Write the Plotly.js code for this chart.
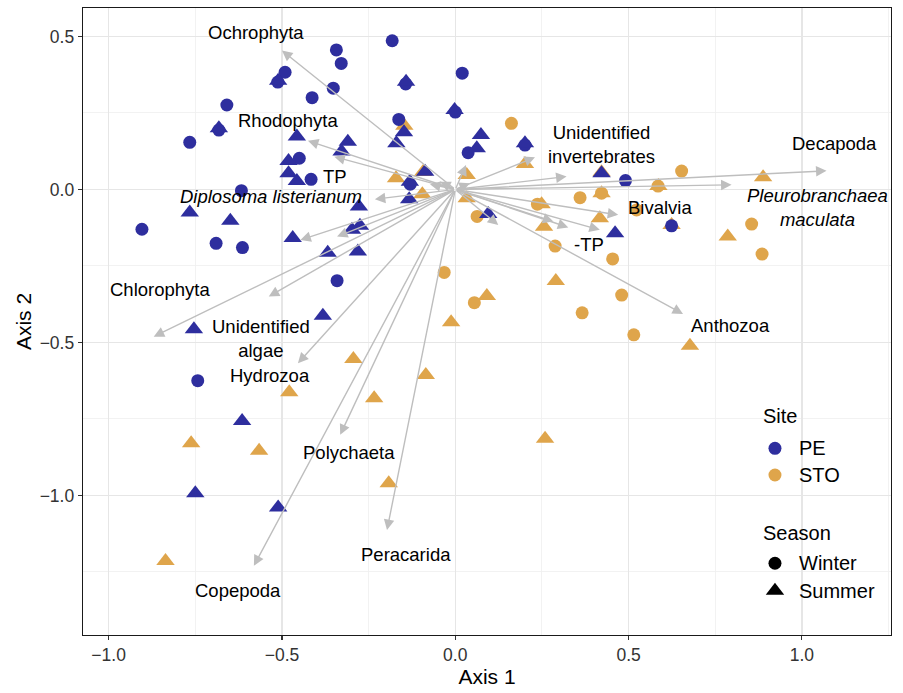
<!DOCTYPE html>
<html><head><meta charset="utf-8">
<script src="https://cdn.plot.ly/plotly-3.0.1.min.js"></script>
<style>html,body{margin:0;padding:0;background:#fff}#chart{width:903px;height:693px}</style>
</head><body><div id="chart"></div>
<script>
// ---- Sample scores (Axis 1, Axis 2) ----
const peWinterX = [-0.182,-0.343,-0.329,-0.491,-0.413,-0.352,-0.659,-0.766,-0.450,-0.416,-0.617,-0.904,-0.690,-0.614,-0.341,-0.743,0.020,-0.163,0.037,-0.130,0.491,0.624,-0.143,0.000,-0.682,-0.512,0.201];
const peWinterY = [0.486,0.456,0.412,0.383,0.300,0.331,0.276,0.154,0.102,0.033,-0.004,-0.130,-0.176,-0.190,-0.298,-0.625,0.380,0.229,0.120,0.017,0.029,-0.119,0.345,0.253,0.194,0.351,0.145];

const peSummerX = [-0.511,-0.682,-0.457,-0.310,-0.328,-0.481,-0.481,-0.457,-0.766,-0.649,-0.142,-0.002,-0.148,-0.170,0.074,0.062,0.201,-0.087,-0.133,-0.278,0.422,0.095,0.461,-0.298,-0.275,-0.469,-0.368,-0.281,-0.382,-0.754,-0.615,-0.750,-0.511,-0.131];
const peSummerY = [0.355,0.200,0.173,0.156,0.124,0.093,0.053,0.028,-0.075,-0.102,0.352,0.260,0.187,0.151,0.178,0.135,0.151,0.058,-0.032,-0.056,0.053,-0.080,-0.143,-0.132,-0.119,-0.159,-0.207,-0.203,-0.413,-0.457,-0.757,-0.993,-1.039,0.025];

const stoWinterX = [0.162,0.360,0.237,0.063,0.653,0.523,0.855,0.885,0.454,0.480,0.288,0.366,0.515,-0.032,0.055,0.585,0.422];
const stoWinterY = [0.216,-0.027,-0.048,-0.088,0.060,-0.067,-0.113,-0.211,-0.227,-0.345,-0.185,-0.403,-0.475,-0.271,-0.370,0.011,-0.012];

const stoSummerX = [-0.147,0.201,-0.171,-0.093,-0.095,0.033,0.033,0.422,0.422,0.249,0.256,0.417,0.586,0.888,0.786,0.290,0.091,-0.012,-0.085,-0.234,-0.294,-0.479,-0.762,-0.566,-0.192,-0.836,0.259,0.677,0.624];
const stoSummerY = [0.208,0.083,0.037,0.057,-0.016,0.047,-0.029,-0.012,0.056,-0.048,-0.122,-0.094,0.011,0.040,-0.154,-0.299,-0.348,-0.434,-0.606,-0.682,-0.554,-0.663,-0.829,-0.854,-0.960,-1.214,-0.815,-0.511,-0.116];

// ---- Fitted vectors (arrow tips, from origin) ----
const vecX = [-0.500,-0.425,-0.349,-0.232,0.230,0.321,1.071,0.797,0.470,0.417,0.657,0.283,0.326,0.124,0.031,0.042,-0.044,-0.073,-0.447,-0.341,-0.870,-0.538,-0.454,-0.332,-0.197,-0.581];
const vecY = [0.454,0.159,0.107,-0.032,0.105,0.042,0.061,0.015,-0.083,-0.132,-0.407,-0.105,-0.124,-0.116,0.080,0.020,0.025,0.017,-0.165,-0.154,-0.481,-0.350,-0.568,-0.802,-1.113,-1.230];

// ---- Vector labels ----
const labelText = ["Ochrophyta","Rhodophyta","TP","<i>Diplosoma listerianum</i>","Unidentified<br>invertebrates","Decapoda","<i>Pleurobranchaea<br>maculata</i>","Bivalvia","-TP","Anthozoa","Chlorophyta","Unidentified<br>algae","Hydrozoa","Polychaeta","Peracarida","Copepoda"];
const labelX = [-0.574,-0.483,-0.348,-0.531,0.423,1.094,1.044,0.592,0.386,0.795,-0.852,-0.561,-0.534,-0.307,-0.142,-0.626];
const labelY = [0.514,0.225,0.042,-0.023,0.148,0.151,-0.059,-0.058,-0.181,-0.443,-0.328,-0.486,-0.609,-0.860,-1.192,-1.309];

// ---- Legend ----
const siteNames = ["PE","STO"];
const seasonNames = ["Winter","Summer"];

const BLUE = "#2E2E9E", ORANGE = "#DFA54B", ARROW = "#BEBEBE";
const FONT = "Liberation Sans, Arial, Helvetica, sans-serif";
const CIRC = 13, TRI = 16;

function pts(x, y, color, symbol, size) {
  return {type:"scatter", mode:"markers", x:x, y:y, hoverinfo:"skip", showlegend:false,
    marker:{color:color, symbol:symbol, size:size, opacity:1, line:{width:0}}};
}

const traces = [
  pts(stoSummerX, stoSummerY, ORANGE, "triangle-up", TRI),
  pts(stoWinterX, stoWinterY, ORANGE, "circle", CIRC),
  pts(peWinterX, peWinterY, BLUE, "circle", CIRC),
  pts(peSummerX, peSummerY, BLUE, "triangle-up", TRI)
];

// legend markers on an overlay [0,1] axis pair
const legU = 0.8564;
const legV = [0.2978, 0.2552, 0.1144, 0.0707];
traces.push({type:"scatter", mode:"markers", xaxis:"x2", yaxis:"y2", hoverinfo:"skip", showlegend:false,
  x:[legU, legU, legU, legU], y:legV,
  marker:{color:[BLUE, ORANGE, "#000", "#000"], symbol:["circle","circle","circle","triangle-up"], size:[CIRC,CIRC,CIRC,TRI], opacity:1, line:{width:0}}});

const annotations = [];
for (let i = 0; i < vecX.length; i++) {
  annotations.push({x:vecX[i], y:vecY[i], ax:0, ay:0, xref:"x", yref:"y", axref:"x", ayref:"y",
    text:"", showarrow:true, arrowhead:2, arrowsize:1.5, arrowwidth:1.4, arrowcolor:ARROW, standoff:0, startstandoff:0});
}
for (let i = 0; i < labelText.length; i++) {
  annotations.push({x:labelX[i], y:labelY[i], xref:"x", yref:"y", text:labelText[i], showarrow:false,
    xanchor:"center", yanchor:"middle", font:{family:FONT, size:18.5, color:"#000"}});
}
// legend texts
const legTitleU = 0.8388, legTextU = 0.884;
annotations.push({xref:"paper", yref:"paper", x:legTitleU, y:0.3493, text:"Site", showarrow:false, xanchor:"left", yanchor:"middle", font:{family:FONT, size:20, color:"#000"}});
annotations.push({xref:"paper", yref:"paper", x:legTitleU, y:0.1632, text:"Season", showarrow:false, xanchor:"left", yanchor:"middle", font:{family:FONT, size:20, color:"#000"}});
const legNames = siteNames.concat(seasonNames);
for (let i = 0; i < legNames.length; i++) {
  annotations.push({xref:"paper", yref:"paper", x:legTextU, y:legV[i], text:legNames[i], showarrow:false, xanchor:"left", yanchor:"middle", font:{family:FONT, size:20, color:"#000"}});
}

const axisCommon = {
  showgrid:true, gridcolor:"#E6E6E6", gridwidth:1.2,
  minor:{dtick:0.25, tick0:0, showgrid:true, gridcolor:"#EFEFEF", gridwidth:0.8, ticks:""},
  zeroline:false, showline:true, mirror:true, linecolor:"#1a1a1a", linewidth:1.3,
  ticks:"outside", ticklen:4, tickwidth:1.1, tickcolor:"#333",
  tickformat:".1f", tickfont:{family:FONT, size:17.5, color:"#333"}
};

const layout = {
  width:903, height:693,
  margin:{l:83, r:12, t:8, b:58},
  paper_bgcolor:"#fff", plot_bgcolor:"#fff",
  font:{family:FONT},
  showlegend:false,
  xaxis:Object.assign({}, axisCommon, {range:[-1.074, 1.257], tickvals:[-1,-0.5,0,0.5,1],
    title:{text:"Axis 1", font:{family:FONT, size:21, color:"#000"}, standoff:5}}),
  yaxis:Object.assign({}, axisCommon, {range:[-1.456, 0.593], tickvals:[-1,-0.5,0,0.5],
    title:{text:"Axis 2", font:{family:FONT, size:21, color:"#000"}, standoff:2}}),
  xaxis2:{overlaying:"x", range:[0,1], visible:false, fixedrange:true},
  yaxis2:{overlaying:"y", range:[0,1], visible:false, fixedrange:true},
  annotations:annotations
};

Plotly.newPlot("chart", traces, layout, {displayModeBar:false, staticPlot:true});
</script></body></html>
